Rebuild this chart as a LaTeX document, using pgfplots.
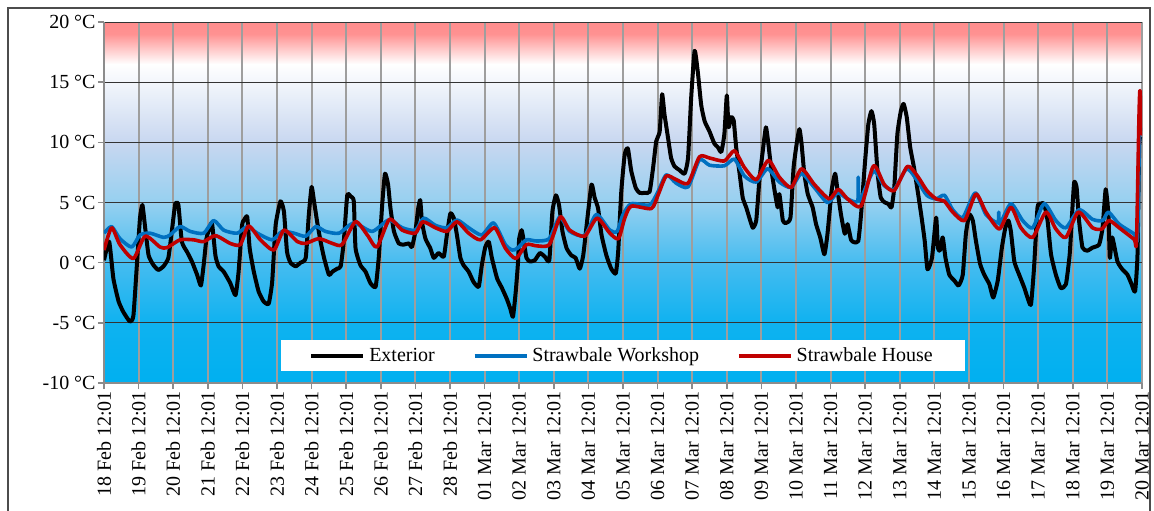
\documentclass[border=0pt]{standalone}
\usepackage{fontspec}
\setmainfont{Liberation Serif}
\usepackage{pgfplots}
\usepackage{pgfplotstable}
\pgfplotsset{compat=1.18}

\definecolor{exter}{RGB}{0,0,0}
\definecolor{workshop}{RGB}{0,112,192}
\definecolor{house}{RGB}{192,0,0}
\definecolor{bgA}{RGB}{0,176,240}
\definecolor{bgB}{RGB}{15,178,240}
\definecolor{bgC}{RGB}{70,188,240}
\definecolor{bgD}{RGB}{150,208,240}
\definecolor{bgE}{RGB}{200,215,240}
\definecolor{bgF}{RGB}{255,255,255}
\definecolor{bgG}{RGB}{255,146,146}
\definecolor{bgH}{RGB}{255,140,140}

% -10..20 mapped to 25bp..75bp
\pgfdeclareverticalshading{tempbg}{100bp}{%
  color(0bp)=(bgA); color(25bp)=(bgA); color(33.33bp)=(bgB);
  color(41.67bp)=(bgC); color(50bp)=(bgD); color(58.33bp)=(bgE);
  color(69.17bp)=(bgF); color(73.33bp)=(bgG); color(75bp)=(bgH);
  color(100bp)=(bgH)}

% Exterior
\pgfplotstableread{
day T
0.00 0.2
0.15 1.75
0.27 -1.3
0.42 -3.2
0.56 -4.1
0.75 -4.9
0.85 -4.4
0.95 -0.2
1.04 3.7
1.11 4.8
1.19 2.9
1.29 0.6
1.43 -0.2
1.57 -0.6
1.72 -0.3
1.86 0.4
1.96 2.6
2.06 4.9
2.15 4.8
2.25 1.75
2.40 0.9
2.54 0.1
2.69 -1.0
2.80 -1.9
2.88 -0.2
2.96 2.0
3.02 2.6
3.12 3.3
3.22 0.6
3.31 -0.3
3.46 -0.75
3.65 -1.7
3.80 -2.7
3.89 -0.75
3.99 3.1
4.06 3.6
4.14 3.8
4.21 1.2
4.33 -0.75
4.47 -2.4
4.62 -3.25
4.76 -3.4
4.86 -1.6
4.96 3.1
5.10 5.1
5.20 4.25
5.29 0.9
5.39 0.0
5.54 -0.3
5.68 0.0
5.83 0.4
5.92 4.0
6.00 6.3
6.07 5.1
6.16 3.4
6.26 1.75
6.36 0.4
6.50 -1.0
6.60 -0.75
6.74 -0.5
6.84 -0.3
6.93 1.75
7.03 5.6
7.13 5.5
7.22 5.1
7.27 1.2
7.41 -0.2
7.56 -0.75
7.70 -1.7
7.85 -2.0
7.94 0.4
8.04 4.8
8.12 7.4
8.21 6.5
8.28 4.5
8.38 2.6
8.52 1.6
8.66 1.5
8.81 1.6
8.90 1.3
9.00 2.6
9.08 4.5
9.14 5.2
9.19 3.4
9.29 2.0
9.43 1.2
9.53 0.4
9.67 0.8
9.82 0.5
9.91 2.3
10.01 4.1
10.11 3.7
10.20 2.3
10.30 0.4
10.39 -0.2
10.54 -0.75
10.68 -1.6
10.83 -2.0
10.92 -0.2
11.02 1.3
11.12 1.75
11.21 0.4
11.36 -1.3
11.50 -2.1
11.64 -3.0
11.74 -3.8
11.82 -4.5
11.90 -2.4
11.96 -0.2
12.00 2.0
12.07 2.7
12.12 2.0
12.21 0.4
12.31 0.1
12.45 0.2
12.60 0.8
12.74 0.5
12.87 0.2
12.96 4.25
13.06 5.6
13.15 4.8
13.25 2.6
13.37 1.2
13.51 0.6
13.63 0.4
13.75 -0.5
13.85 0.6
13.96 3.4
14.09 6.5
14.18 5.4
14.28 4.5
14.38 2.3
14.52 0.6
14.66 -0.5
14.79 -0.9
14.86 0.9
14.95 5.9
15.05 9.0
15.14 9.5
15.24 7.6
15.37 6.2
15.48 5.8
15.63 5.8
15.77 5.9
15.87 7.9
15.96 10.1
16.06 10.9
16.13 14.0
16.20 12.3
16.30 10.4
16.39 8.7
16.49 8.0
16.63 7.7
16.78 7.4
16.88 8.7
16.97 13.7
17.07 17.6
17.16 15.9
17.26 13.1
17.36 11.75
17.50 10.9
17.64 9.9
17.74 9.6
17.84 9.2
17.93 10.7
18.00 13.9
18.05 11.25
18.13 12.1
18.20 11.8
18.27 9.6
18.37 7.4
18.46 5.4
18.56 4.6
18.65 3.75
18.75 2.9
18.85 3.5
18.94 6.8
19.04 9.3
19.13 11.25
19.20 9.9
19.28 7.9
19.38 6.0
19.47 4.6
19.52 5.7
19.62 3.5
19.71 3.3
19.84 3.75
19.93 7.9
20.03 10.1
20.10 11.1
20.16 9.9
20.24 7.4
20.34 5.7
20.48 4.6
20.58 3.2
20.70 2.1
20.82 0.7
20.91 2.4
21.03 6.0
21.13 7.4
21.20 6.0
21.30 4.0
21.41 2.4
21.49 3.2
21.59 1.9
21.68 1.7
21.80 1.8
21.88 4.0
21.99 8.2
22.09 11.5
22.18 12.6
22.26 11.5
22.36 7.4
22.45 5.4
22.57 5.0
22.66 4.9
22.76 4.6
22.84 6.25
22.93 10.7
23.03 12.6
23.11 13.2
23.20 12.1
23.30 9.6
23.41 7.9
23.53 5.7
23.63 3.75
23.72 1.8
23.80 -0.55
23.93 0.4
24.05 3.75
24.10 1.25
24.16 1.0
24.24 2.1
24.32 0.4
24.43 -1.0
24.58 -1.5
24.70 -1.9
24.82 -1.0
24.91 2.4
25.01 4.0
25.11 3.5
25.20 1.8
25.32 -0.1
25.44 -1.0
25.59 -1.8
25.70 -2.9
25.83 -1.5
25.95 1.25
26.05 2.9
26.14 3.5
26.21 2.6
26.31 0.1
26.45 -1.0
26.60 -2.1
26.69 -2.9
26.79 -3.5
26.88 -0.4
26.98 4.6
27.08 4.9
27.17 4.9
27.27 3.5
27.37 0.7
27.51 -1.0
27.65 -2.1
27.80 -1.8
27.91 0.7
27.99 4.6
28.04 6.7
28.11 6.25
28.18 3.5
28.28 1.25
28.42 1.0
28.57 1.25
28.76 1.5
28.86 2.9
28.95 6.1
29.03 4.0
29.07 0.4
29.14 2.1
29.29 0.1
29.43 -0.55
29.58 -1.0
29.70 -1.8
29.80 -2.4
29.87 0.7
29.92 9.8
29.97 10.5
}\exterior

% Strawbale Workshop
\pgfplotstableread{
day T
0.00 2.45
0.22 3.0
0.46 2.0
0.80 1.3
1.04 2.3
1.33 2.45
1.72 2.1
1.91 2.3
2.20 3.0
2.49 2.6
2.88 2.45
3.17 3.5
3.46 2.7
3.85 2.45
4.14 3.0
4.43 2.45
4.86 1.9
5.15 2.6
5.49 2.45
5.83 2.2
6.12 3.0
6.40 2.6
6.79 2.45
7.22 3.3
7.75 2.6
8.23 3.55
8.62 2.9
9.00 2.7
9.24 3.7
9.58 3.1
9.91 2.9
10.20 3.55
10.54 2.9
10.92 2.3
11.26 3.3
11.60 1.5
11.80 1.05
11.95 1.2
12.21 1.9
12.50 1.8
12.87 2.0
13.17 3.8
13.46 2.6
13.89 2.25
14.23 4.0
14.62 2.7
14.83 2.6
15.00 4.0
15.24 4.9
15.77 4.8
16.01 5.9
16.25 7.3
16.54 6.6
16.88 6.3
17.21 8.55
17.50 8.1
17.93 8.05
18.22 8.6
18.51 7.2
18.85 6.7
19.18 7.8
19.52 6.7
19.86 6.25
20.16 7.4
20.53 6.25
20.91 5.0
21.20 5.8
21.49 5.3
21.78 5.1
21.80 7.1
21.83 5.1
22.24 7.6
22.55 6.4
22.84 6.1
23.20 7.8
23.51 6.8
23.78 5.6
24.05 5.3
24.29 5.6
24.53 4.4
24.82 3.75
25.18 5.8
25.49 4.0
25.83 3.3
25.86 4.2
25.89 3.2
26.21 4.9
26.55 3.5
26.84 2.9
27.17 4.9
27.51 3.5
27.80 2.9
28.18 4.4
28.57 3.6
28.86 3.5
29.03 4.2
29.34 3.2
29.77 2.4
29.87 2.1
29.93 10.5
30.00 11.0
}\workshop

% Strawbale House
\pgfplotstableread{
day T
0.00 1.05
0.22 2.9
0.46 1.5
0.85 0.35
1.19 2.2
1.62 1.3
1.82 1.25
2.20 1.9
2.59 1.9
2.88 1.75
3.22 2.25
3.65 1.6
3.94 1.5
4.18 3.05
4.52 1.9
4.91 1.05
5.20 2.7
5.59 1.75
5.83 1.6
6.21 2.0
6.60 1.6
6.88 1.5
7.27 3.4
7.61 2.3
7.89 1.3
8.25 3.6
8.62 2.7
9.00 2.45
9.21 3.4
9.58 2.9
9.91 2.6
10.20 3.4
10.54 2.45
10.88 1.9
11.29 2.9
11.60 1.2
11.90 0.35
12.21 1.5
12.50 1.4
12.87 1.5
13.19 3.8
13.46 2.7
13.89 2.2
14.25 3.7
14.62 2.45
14.87 2.0
15.05 3.7
15.24 4.7
15.82 4.5
16.01 5.6
16.25 7.2
16.54 6.9
16.88 6.6
17.21 8.8
17.50 8.7
17.93 8.45
18.22 9.3
18.51 7.9
18.85 6.9
19.20 8.5
19.52 7.1
19.86 6.25
20.16 7.8
20.53 6.5
20.96 5.3
21.22 6.1
21.49 5.3
21.88 4.7
22.24 8.05
22.55 6.5
22.84 6.0
23.22 8.0
23.51 7.2
23.78 6.0
24.05 5.3
24.29 5.1
24.53 4.2
24.87 3.5
25.20 5.7
25.49 4.2
25.88 2.8
26.21 4.6
26.50 2.9
26.84 2.1
27.22 4.2
27.51 2.8
27.80 2.1
28.16 4.2
28.57 2.9
28.84 2.8
29.05 3.5
29.34 2.9
29.77 1.95
29.84 1.8
29.91 11.8
29.94 14.3
29.98 11.0
30.00 10.7
}\house

\begin{document}
\begin{tikzpicture}
% 1 px of the reference = 0.5pt; plot area SW corner at (0,0)
\useasboundingbox (-52pt,-63.5pt) rectangle (525pt,191.5pt);
\draw[black!70, line width=0.6pt] (-48pt,-64pt) -- (-48pt,187.5pt) -- (523pt,187.5pt) -- (523pt,-64pt);
\begin{axis}[
  at={(0,0)}, anchor=south west,
  scale only axis,
  width=519pt, height=180.5pt,
  xmin=0, xmax=30, ymin=-10, ymax=20,
  axis lines=left,
  axis line style={black!45, line width=0.8pt, -},
  axis background/.style={shading=tempbg},
  xtick={0,...,30},
  xticklabels={18 Feb 12:01,19 Feb 12:01,20 Feb 12:01,21 Feb 12:01,22 Feb 12:01,23 Feb 12:01,24 Feb 12:01,25 Feb 12:01,26 Feb 12:01,27 Feb 12:01,28 Feb 12:01,01 Mar 12:01,02 Mar 12:01,03 Mar 12:01,04 Mar 12:01,05 Mar 12:01,06 Mar 12:01,07 Mar 12:01,08 Mar 12:01,09 Mar 12:01,10 Mar 12:01,11 Mar 12:01,12 Mar 12:01,13 Mar 12:01,14 Mar 12:01,15 Mar 12:01,16 Mar 12:01,17 Mar 12:01,18 Mar 12:01,19 Mar 12:01,20 Mar 12:01},
  x tick label style={rotate=90, anchor=east, inner sep=1pt},
  ytick={-10,-5,0,5,10,15,20},
  yticklabels={-10 °C,-5 °C,0 °C,5 °C,10 °C,15 °C,20 °C},
  y tick label style={inner sep=1pt},
  tick align=outside,
  major tick length=3pt,
  tick style={black!45, line width=0.8pt},
  grid=major,
  x grid style={black!38, line width=1pt},
  y grid style={black!80, line width=0.5pt},
  legend columns=3,
  legend style={at={(0.5,0.075)}, anchor=center, draw=none, fill=white,
    inner xsep=14pt, inner ysep=1.5pt,
    /tikz/every even column/.append style={column sep=17pt}},
  legend image code/.code={\draw[#1] (0pt,0pt) -- (26pt,0pt);},
]
\addplot[exter, line width=2pt, line join=round, smooth, tension=0.3] table[x=day, y=T] {\exterior};
\addlegendentry{Exterior}
\addplot[workshop, line width=1.8pt, line join=round, smooth, tension=0.4] table[x=day, y=T] {\workshop};
\addlegendentry{Strawbale Workshop}
\addplot[house, line width=1.8pt, line join=round, smooth, tension=0.4] table[x=day, y=T] {\house};
\addlegendentry{Strawbale House}
\end{axis}
\end{tikzpicture}
\end{document}
